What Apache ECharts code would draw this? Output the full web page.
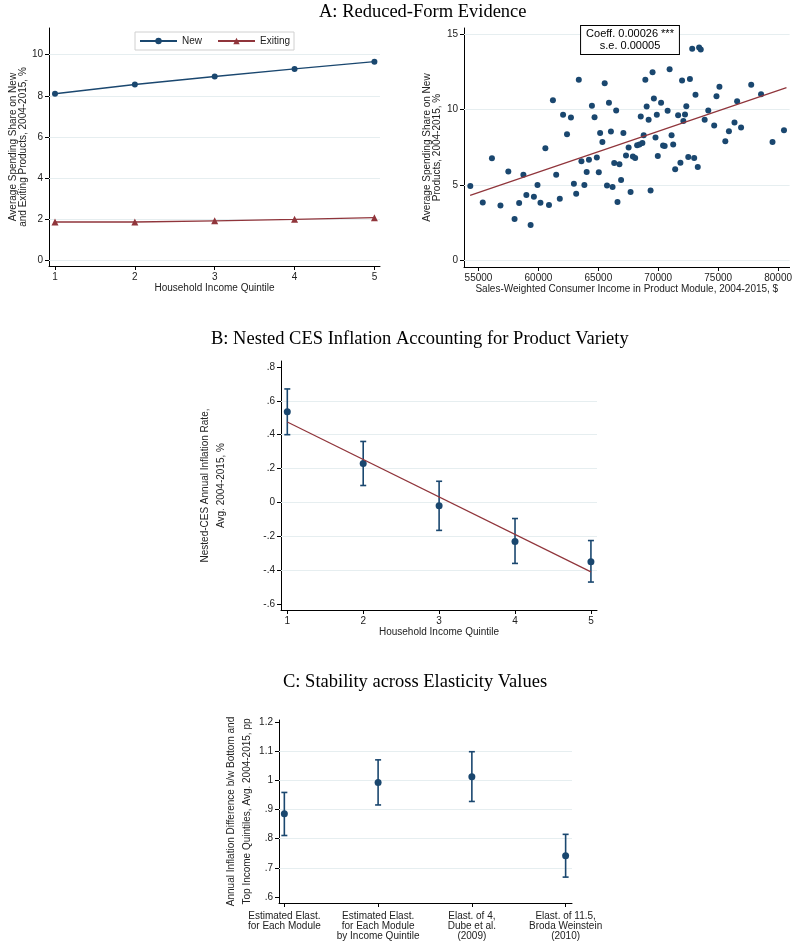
<!DOCTYPE html>
<html lang="en">
<head>
<meta charset="UTF-8">
<title>Product variety and inflation</title>
<style>
  html, body { margin: 0; padding: 0; background: #fff; }
  #main { width: 795px; height: 944px; }
</style>
</head>
<body>
<div id="main"></div>
<script src="https://cdn.jsdelivr.net/npm/echarts@6/dist/echarts.min.js"></script>
<script>
// ---- panel A, left: spending share by income quintile
var quintiles = [1, 2, 3, 4, 5];
var newShare = [8.10, 8.55, 8.94, 9.31, 9.66];
var exitShare = [1.86, 1.86, 1.92, 1.99, 2.07];

// ---- panel A, right: product modules
var moduleIncome = [
  54316, 55356, 56121, 56833, 57489, 58009, 58392, 58747, 58993, 59349,
  59623, 59923, 60170, 60580, 60881, 61209, 61483, 61783, 62057, 62385,
  62713, 62960, 63151, 63370, 63589, 63835, 64026, 64218, 64464, 64683,
  64874, 65038, 65148, 65339, 65531, 65722, 65886, 66050, 66187, 66324,
  66488, 66597, 66761, 66898, 67090, 67309, 67527, 67691, 67883, 68074,
  68238, 68430, 68539, 68676, 68785, 68922, 69032, 69196, 69360, 69524,
  69633, 69770, 69880, 69962, 70235, 70399, 70536, 70782, 70947, 71111,
  71247, 71411, 71657, 71849, 71986, 72095, 72232, 72341, 72505, 72642,
  72833, 72998, 73107, 73298, 73408, 73545, 73873, 74174, 74666, 74858,
  75104, 75596, 75897, 76362, 76581, 76909, 77757, 78578, 79535, 80492
];
var moduleNewShare = [
  4.92, 3.83, 6.76, 3.63, 5.89, 2.73, 3.79, 5.67, 4.32, 2.33,
  4.21, 4.99, 3.81, 7.42, 3.66, 10.61, 5.67, 4.08, 9.64, 8.35,
  9.46, 5.07, 4.41, 11.97, 6.56, 4.99, 5.85, 6.67, 10.24, 9.48,
  6.82, 5.83, 8.44, 7.84, 11.74, 4.96, 10.44, 8.53, 4.85, 6.45,
  9.93, 3.86, 6.36, 5.32, 8.44, 6.94, 7.47, 4.52, 6.87, 6.78,
  7.62, 7.67, 9.53, 7.78, 8.29, 11.97, 10.19, 9.31, 4.63, 12.47,
  10.72, 8.13, 9.64, 6.91, 10.44, 7.60, 7.58, 9.91, 12.67, 8.29,
  7.67, 6.03, 9.62, 6.47, 11.92, 9.24, 9.66, 10.21, 6.85, 12.01,
  14.03, 6.78, 10.97, 6.18, 14.11, 13.98, 9.31, 9.93, 8.93, 10.88,
  11.50, 7.89, 8.55, 9.13, 10.55, 8.80, 11.63, 11.01, 7.84, 8.62
];
var fitIncome = [54300, 80700];
var fitShare = [4.30, 11.45];

// ---- panel B: nested CES inflation by quintile
var nestedRate = [0.535, 0.23, -0.02, -0.23, -0.35];
var nestedLo = [0.40, 0.10, -0.165, -0.36, -0.47];
var nestedHi = [0.67, 0.36, 0.125, -0.095, -0.225];
var nestedFitX = [1, 5];
var nestedFitY = [0.475, -0.41];

// ---- panel C: elasticity robustness
var elastLabels = [
  'Estimated Elast.\nfor Each Module',
  'Estimated Elast.\nfor Each Module\nby Income Quintile',
  'Elast. of 4,\nDube et al.\n(2009)',
  'Elast. of 11.5,\nBroda Weinstein\n(2010)'
];
var elastPos = [1, 2, 3, 4];
var elastDiff = [0.886, 0.993, 1.013, 0.741];
var elastLo = [0.811, 0.916, 0.928, 0.668];
var elastHi = [0.959, 1.071, 1.099, 0.815];

// tick labels
var ticksA1x = [1, 2, 3, 4, 5];
var ticksA1y = [0, 2, 4, 6, 8, 10];
var ticksA2x = [55000, 60000, 65000, 70000, 75000, 80000];
var ticksA2y = [0, 5, 10, 15];
var ticksBy = [-0.6, -0.4, -0.2, 0, 0.2, 0.4, 0.6, 0.8];
var ticksCy = [0.6, 0.7, 0.8, 0.9, 1, 1.1, 1.2];

var NAVY = '#1a476f';
var MAROON = '#90353b';
var GRID = '#e6eef0';
var SANS = '"Liberation Sans", Arial, sans-serif';
var SERIF = '"Liberation Serif", "Times New Roman", serif';

function stataNum(v) {
  var s = String(Math.round(v * 100) / 100);
  return s.replace(/^0\./, '.').replace(/^-0\./, '-.');
}

function pairs(xs, ys) {
  return xs.map(function (x, i) { return [x, ys[i]]; });
}

function valAxis(gridIndex, min, max, ticks, extra) {
  var ax = {
    type: 'value',
    gridIndex: gridIndex,
    min: min,
    max: max,
    axisLine: { show: true, onZero: false, lineStyle: { color: '#000', width: 1 } },
    axisTick: { show: true, length: 4, customValues: ticks, lineStyle: { color: '#000' } },
    axisLabel: { customValues: ticks, margin: 6, fontSize: 10, fontFamily: SANS, color: '#222', formatter: stataNum },
    splitLine: { show: false },
    nameTextStyle: { fontSize: 10, fontFamily: SANS, color: '#222' }
  };
  for (var k in extra) ax[k] = extra[k];
  return ax;
}

// light horizontal grid lines, kept behind the marks
function gridSeries(idx, values) {
  return {
    name: 'grid' + idx, type: 'line', xAxisIndex: idx, yAxisIndex: idx,
    data: [], z: 1, silent: true,
    markLine: {
      z: 1,
      silent: true,
      symbol: 'none',
      label: { show: false },
      lineStyle: { color: GRID, type: 'solid', width: 1 },
      data: values.map(function (v) { return { yAxis: v }; })
    }
  };
}

function errorBars(idx, xs, lo, hi) {
  return {
    type: 'custom',
    xAxisIndex: idx,
    yAxisIndex: idx,
    data: xs.map(function (x, i) { return [x, lo[i], hi[i]]; }),
    encode: { x: 0, y: [1, 2] },
    z: 3,
    renderItem: function (params, api) {
      var top = api.coord([api.value(0), api.value(2)]);
      var bot = api.coord([api.value(0), api.value(1)]);
      var w = 3;
      var st = { stroke: NAVY, lineWidth: 1.6 };
      return {
        type: 'group',
        children: [
          { type: 'line', shape: { x1: top[0], y1: top[1], x2: bot[0], y2: bot[1] }, style: st },
          { type: 'line', shape: { x1: top[0] - w, y1: top[1], x2: top[0] + w, y2: top[1] }, style: st },
          { type: 'line', shape: { x1: bot[0] - w, y1: bot[1], x2: bot[0] + w, y2: bot[1] }, style: st }
        ]
      };
    }
  };
}

var chart = echarts.init(document.getElementById('main'));

var option = {
  animation: false,
  backgroundColor: '#fff',
  textStyle: { fontFamily: SANS },
  graphic: [
    { type: 'text', x: 319, y: 12, style: { text: 'A: Reduced-Form Evidence', font: '18.5px ' + SERIF, fill: '#000', textAlign: 'left', textVerticalAlign: 'middle' } },
    { type: 'text', x: 211, y: 339, style: { text: 'B: Nested CES Inflation Accounting for Product Variety', font: '18.5px ' + SERIF, fill: '#000', textAlign: 'left', textVerticalAlign: 'middle' } },
    { type: 'text', x: 283, y: 682, style: { text: 'C: Stability across Elasticity Values', font: '18.5px ' + SERIF, fill: '#000', textAlign: 'left', textVerticalAlign: 'middle' } },
    {
      type: 'text', x: 630, y: 26, z: 10,
      style: {
        text: 'Coeff. 0.00026 ***\ns.e. 0.00005', font: '11px ' + SANS, fill: '#000',
        textAlign: 'center', textVerticalAlign: 'top', lineHeight: 12,
        backgroundColor: '#fff', borderColor: '#000', borderWidth: 1, padding: [2, 5]
      }
    }
  ],
  legend: {
    left: 135, top: 32,
    orient: 'horizontal',
    borderColor: '#d0d0d0', borderWidth: 1,
    padding: [4, 4],
    itemWidth: 37, itemHeight: 8, itemGap: 15,
    textStyle: { fontSize: 10, fontFamily: SANS, color: '#222' },
    data: ['New', 'Exiting']
  },
  grid: [
    { left: 49, top: 28, width: 331, height: 238 },
    { left: 464, top: 28, width: 331, height: 239 },
    { left: 281, top: 361, width: 316, height: 249 },
    { left: 279, top: 720, width: 293, height: 183 }
  ],
  xAxis: [
    valAxis(0, 0.925, 5.07, ticksA1x, { name: 'Household Income Quintile', nameLocation: 'middle', nameGap: 16 }),
    valAxis(1, 53790, 80960, ticksA2x, { name: 'Sales-Weighted Consumer Income in Product Module, 2004-2015, $', nameLocation: 'middle', nameGap: 16 }),
    valAxis(2, 0.917, 5.08, ticksA1x, { name: 'Household Income Quintile', nameLocation: 'middle', nameGap: 17 }),
    valAxis(3, 0.943, 4.068, elastPos, {})
  ],
  yAxis: [
    valAxis(0, -0.28, 11.3, ticksA1y, { name: 'Average Spending Share on New\nand Exiting Products, 2004-2015, %', nameLocation: 'middle', nameGap: 21 }),
    valAxis(1, -0.45, 15.4, ticksA2y, { name: 'Average Spending Share on New\nProducts, 2004-2015, %', nameLocation: 'middle', nameGap: 22 }),
    valAxis(2, -0.635, 0.835, ticksBy, { name: 'Nested-CES Annual Inflation Rate,\nAvg. 2004-2015, %', nameLocation: 'middle', nameGap: 52 }),
    valAxis(3, 0.579, 1.208, ticksCy, { name: 'Annual Inflation Difference b/w Bottom and\nTop Income Quintiles, Avg. 2004-2015, pp', nameLocation: 'middle', nameGap: 24 })
  ],
  series: [
    gridSeries(0, [0, 2, 4, 6, 8, 10]),
    gridSeries(1, [0, 5, 10, 15]),
    gridSeries(2, [-0.4, -0.2, 0, 0.2, 0.4, 0.6]),
    gridSeries(3, [0.7, 0.8, 0.9, 1, 1.1]),
    {
      name: 'New', type: 'line', xAxisIndex: 0, yAxisIndex: 0,
      data: pairs(quintiles, newShare),
      symbol: 'circle', symbolSize: 6, z: 3,
      itemStyle: { color: NAVY, opacity: 1 }, lineStyle: { color: NAVY, width: 1.3 }
    },
    {
      name: 'Exiting', type: 'line', xAxisIndex: 0, yAxisIndex: 0,
      data: pairs(quintiles, exitShare),
      symbol: 'triangle', symbolSize: 7, z: 3,
      itemStyle: { color: MAROON, opacity: 1 }, lineStyle: { color: MAROON, width: 1.3 }
    },
    {
      name: 'modules', type: 'scatter', xAxisIndex: 1, yAxisIndex: 1,
      data: pairs(moduleIncome, moduleNewShare),
      symbol: 'circle', symbolSize: 6,
      itemStyle: { color: NAVY, opacity: 1 },
      z: 3
    },
    {
      name: 'fitA', type: 'line', xAxisIndex: 1, yAxisIndex: 1,
      data: pairs(fitIncome, fitShare),
      symbol: 'none', lineStyle: { color: MAROON, width: 1.2 }, z: 4
    },
    errorBars(2, quintiles, nestedLo, nestedHi),
    {
      name: 'nested', type: 'scatter', xAxisIndex: 2, yAxisIndex: 2,
      data: pairs(quintiles, nestedRate),
      symbol: 'circle', symbolSize: 7,
      itemStyle: { color: NAVY, opacity: 1 },
      z: 4
    },
    {
      name: 'fitB', type: 'line', xAxisIndex: 2, yAxisIndex: 2,
      data: pairs(nestedFitX, nestedFitY),
      symbol: 'none', lineStyle: { color: MAROON, width: 1.2 }, z: 5
    },
    errorBars(3, elastPos, elastLo, elastHi),
    {
      name: 'elast', type: 'scatter', xAxisIndex: 3, yAxisIndex: 3,
      data: pairs(elastPos, elastDiff),
      symbol: 'circle', symbolSize: 7,
      itemStyle: { color: NAVY, opacity: 1 },
      z: 4
    }
  ]
};

// category labels under panel C
option.xAxis[3].axisLabel.formatter = function (v) {
  var i = elastPos.indexOf(Math.round(v));
  return i >= 0 ? elastLabels[i] : '';
};
option.xAxis[3].axisLabel.lineHeight = 10;
option.xAxis[3].axisLabel.margin = 8;
option.yAxis[2].nameTextStyle.lineHeight = 16;
option.yAxis[3].nameTextStyle.lineHeight = 16;

chart.setOption(option);

window.addEventListener('resize', function () {
  chart.resize();
});
</script>
</body>
</html>
